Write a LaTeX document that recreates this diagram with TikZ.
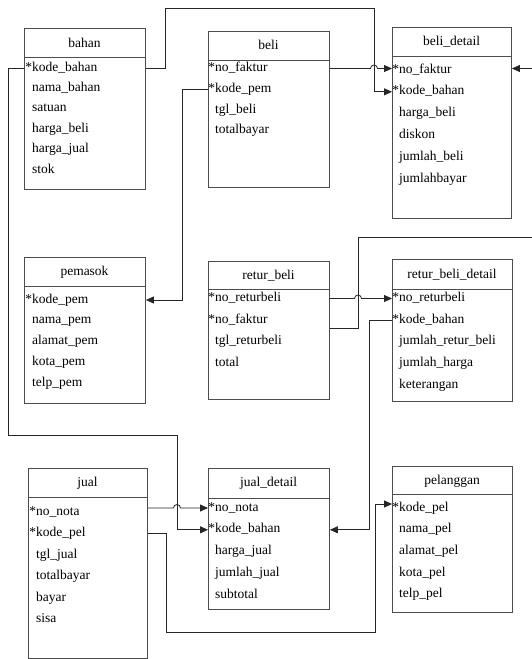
\documentclass[tikz,border=0pt]{standalone}
\usepackage{fontspec}
\setmainfont{Liberation Serif}
\usetikzlibrary{arrows.meta,calc}

\tikzset{
  tbl/.style={draw=black!70, line width=0.9pt, anchor=north west, inner sep=0pt},
  rule/.style={draw=black!70, line width=0.9pt},
  rowtxt/.style={anchor=west, inner sep=0pt, text height=9pt, text depth=3pt,
    font=\fontsize{13.5}{16}\selectfont},
  ttl/.style={inner sep=0pt, font=\fontsize{13.5}{16}\selectfont},
  conn/.style={draw=black!85, line width=0.8pt},
  fk/.style={conn, -{Triangle[length=8pt,width=7pt]}},
}

% entity box: name, left, top, right, bottom, header rule y, title y, title
\newcommand\erbox[8]{%
  \node[tbl, minimum width={#4pt-#2pt}, minimum height={#5pt-#3pt}] (#1) at (#2,#3) {};
  \draw[rule] (#1.west |- 0,#6) -- (#1.east |- 0,#6);
  \node[ttl] (#1-t) at ({(#2+#4)/2},#7) {#8};
}
% attribute rows: name, x, first y, step, list
\newcommand\errows[5]{%
  \foreach \t [count=\i] in {#5}
    \node[rowtxt] (#1-\i) at (#2,{#3+(\i-1)*#4}) {\t};
}
\newcommand\pk{\llap{*}}

\begin{document}
\begin{tikzpicture}[x=1pt,y=-1pt]
\clip (0,0) rectangle (532,659);
\fill[white] (0,0) rectangle (532,659);

% ---- entities ----
\erbox{bahan}{24}{28}{145}{189}{57}{43}{bahan}
\errows{bahan}{32}{68}{20.4}{\pk kode\_bahan,nama\_bahan,satuan,harga\_beli,harga\_jual,stok}

\erbox{beli}{208}{31}{329}{187}{60}{45}{beli}
\errows{beli}{215}{68.5}{20.8}{\pk no\_faktur,\pk kode\_pem,tgl\_beli,totalbayar}

\erbox{beli_detail}{392}{27}{511}{218}{56}{42}{beli\_detail}
\errows{beli_detail}{399}{70}{21.8}{\pk no\_faktur,\pk kode\_bahan,harga\_beli,diskon,jumlah\_beli,jumlahbayar}

\erbox{pemasok}{24}{257}{145}{403}{286}{272}{pemasok}
\errows{pemasok}{32}{300}{20.9}{\pk kode\_pem,nama\_pem,alamat\_pem,kota\_pem,telp\_pem}

\erbox{retur_beli}{208}{261}{329}{399}{289}{276}{retur\_beli}
\errows{retur_beli}{215}{298.5}{21.5}{\pk no\_returbeli,\pk no\_faktur,tgl\_returbeli,total}

\erbox{retur_beli_detail}{392}{259}{512}{401}{289}{275}{retur\_beli\_detail}
\errows{retur_beli_detail}{399}{298.5}{21.7}{\pk no\_returbeli,\pk kode\_bahan,jumlah\_retur\_beli,jumlah\_harga,keterangan}

\erbox{jual}{28}{468}{147}{658}{497}{483}{jual}
\errows{jual}{36}{512}{21.5}{\pk no\_nota,\pk kode\_pel,tgl\_jual,totalbayar,bayar,sisa}

\erbox{jual_detail}{208}{468}{329}{609}{498}{483}{jual\_detail}
\errows{jual_detail}{215}{508}{21.8}{\pk no\_nota,\pk kode\_bahan,harga\_jual,jumlah\_jual,subtotal}

\erbox{pelanggan}{392}{466}{512}{612}{494}{481}{pelanggan}
\errows{pelanggan}{399}{508}{21.7}{\pk kode\_pel,nama\_pel,alamat\_pel,kota\_pel,telp\_pel}

% ---- routing points ----
\coordinate (t1) at (165,8);
\coordinate (t2) at (374,8);
\coordinate (k1) at (182,0);
\coordinate (l1) at (8,435);
\coordinate (l2) at (177,435);
\coordinate (p1) at (166,632);
\coordinate (p2) at (375,632);
\coordinate (r1) at (358,237);
\coordinate (r2) at (545,237);
\coordinate (d1) at (369,0);

% ---- relations ----
% bahan.kode_bahan -> beli_detail.kode_bahan
\draw[fk] (bahan.east |- bahan-1.west) -| (t1) -| (t2 |- beli_detail-2.west)
  -- (beli_detail.west |- beli_detail-2.west);
% beli.no_faktur -> beli_detail.no_faktur (hops over the line above)
\draw[fk] (beli.east |- beli-1.west) -- ($(t2 |- beli-1.west)+(-3.5,0)$)
  arc[start angle=180, end angle=0, radius=3.5pt]
  -- (beli_detail.west |- beli-1.west);
% beli.kode_pem -> pemasok.kode_pem
\draw[fk] (beli.west |- beli-2.west) -| (k1 |- pemasok-1.west)
  -- (pemasok.east |- pemasok-1.west);
% bahan.kode_bahan -> jual_detail.kode_bahan
\draw[fk] (bahan.west |- bahan-1.west) -| (l1) -- (l2)
  -- (l2 |- jual_detail-2.west) -- (jual_detail.west |- jual_detail-2.west);
% jual.no_nota -> jual_detail.no_nota
\draw[fk] (jual.east |- jual_detail-1.west) -- ($(l2 |- jual_detail-1.west)+(-3.5,0)$)
  arc[start angle=180, end angle=0, radius=3.5pt]
  -- (jual_detail.west |- jual_detail-1.west);
% jual.kode_pel -> pelanggan.kode_pel
\draw[fk] (jual.east |- jual-2.west) -| (p1) -- (p2)
  |- ([yshift=4pt]pelanggan.west |- pelanggan-1.west);
% retur_beli.no_returbeli -> retur_beli_detail.no_returbeli
\draw[fk] (retur_beli.east |- retur_beli-1.west) -- ($(r1 |- retur_beli-1.west)+(-3.5,0)$)
  arc[start angle=180, end angle=0, radius=3.5pt]
  -- (retur_beli_detail.west |- retur_beli-1.west);
% retur_beli.no_faktur -> beli_detail.no_faktur
\draw[fk] ([yshift=-8pt]retur_beli.east |- retur_beli-2.west) -| (r1) -- (r2)
  |- (beli_detail.east |- beli-1.west);
% retur_beli_detail.kode_bahan -> jual_detail.kode_bahan
\draw[fk] (retur_beli_detail.west |- retur_beli_detail-2.west) -| (d1 |- jual_detail-2.west)
  -- (jual_detail.east |- jual_detail-2.west);
\end{tikzpicture}
\end{document}
